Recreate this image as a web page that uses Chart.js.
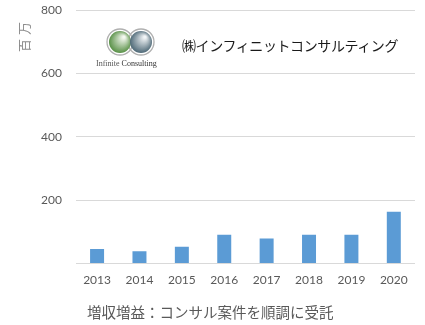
<!DOCTYPE html>
<html>
<head>
<meta charset="utf-8">
<script src="https://cdn.jsdelivr.net/npm/chart.js@4"></script>
<style>
  html, body { margin: 0; padding: 0; background: #fff; }
  #wrap { position: relative; width: 425px; height: 325px; }
  #salesChart { position: absolute; left: 0; top: 0; }
  .unit { position: absolute; left: 23px; top: 35px; transform: translate(-50%, -50%) rotate(-90deg); font: 13px "Noto Sans CJK JP"; color: #8c8c8c; white-space: nowrap; letter-spacing: 4px; line-height: 1; }
  .company { position: absolute; left: 182px; top: 35px; font: 14px "Noto Sans CJK JP"; color: #1a1a1a; white-space: nowrap; letter-spacing: -0.4px; }
  .brand { position: absolute; left: 96px; top: 59px; font: 8px "Liberation Serif"; color: #555; white-space: nowrap; }
  .brand b { font-weight: normal; color: #333; }
  .caption { position: absolute; left: 87px; top: 301px; font: 14.5px "Noto Sans CJK JP"; color: #595959; white-space: nowrap; }
</style>
</head>
<body>
<div id="wrap">
  <canvas id="salesChart" width="425" height="325"></canvas>
  <div class="unit">百万</div>
  <div class="company">㈱インフィニットコンサルティング</div>
  <div class="brand">Infinite <b>Consulting</b></div>
  <div class="caption">増収増益：コンサル案件を順調に受託</div>
</div>
<script>
const years = ["2013", "2014", "2015", "2016", "2017", "2018", "2019", "2020"];
const sales = [46, 39, 53, 91, 79, 91, 91, 164];
const yTicks = [0, 200, 400, 600, 800];

// two overlapping spheres for the logo
const logoPlugin = {
  id: "logo",
  afterDraw(chart) {
    const c = chart.ctx;
    const spheres = [
      { x: 120, y: 42, inner: "#f4f8f0", outer: "#4f8a3c" },
      { x: 141, y: 42, inner: "#f2f5f7", outer: "#44606f" }
    ];
    c.save();
    c.strokeStyle = "#b0b0b0";
    c.lineWidth = 1.3;
    spheres.forEach(s => {
      c.beginPath();
      c.arc(s.x, s.y, 13, 0, Math.PI * 2);
      c.stroke();
    });
    spheres.forEach(s => {
      const g = c.createRadialGradient(s.x + 4, s.y - 5, 1, s.x, s.y, 12);
      g.addColorStop(0, s.inner);
      g.addColorStop(1, s.outer);
      c.fillStyle = g;
      c.beginPath();
      c.arc(s.x, s.y, 11, 0, Math.PI * 2);
      c.fill();
    });
    c.restore();
  }
};

document.addEventListener("DOMContentLoaded", function () {
  const ctx = document.getElementById("salesChart").getContext("2d");
  new Chart(ctx, {
    type: "bar",
    data: {
      labels: years,
      datasets: [{
        data: sales,
        backgroundColor: "#5b9bd5",
        barPercentage: 0.33,
        categoryPercentage: 1
      }]
    },
    options: {
      responsive: false,
      animation: false,
      layout: { padding: { left: 38, right: 10, top: 3.5, bottom: 29 } },
      plugins: { legend: { display: false }, tooltip: { enabled: false } },
      scales: {
        x: {
          grid: { display: false, drawTicks: false },
          border: { display: false },
          ticks: { color: "#595959", font: { family: "Lato", size: 12 }, padding: 9 }
        },
        y: {
          min: 0,
          max: 800,
          afterBuildTicks(axis) { axis.ticks = yTicks.map(v => ({ value: v })); },
          grid: { color: "#d9d9d9", tickLength: 11, tickColor: "transparent" },
          border: { display: false },
          ticks: {
            color: "#595959",
            font: { family: "Lato", size: 12 },
            padding: 3,
            callback: v => (v === 0 ? "" : v)
          }
        }
      }
    },
    plugins: [logoPlugin]
  });
});
</script>
</body>
</html>
